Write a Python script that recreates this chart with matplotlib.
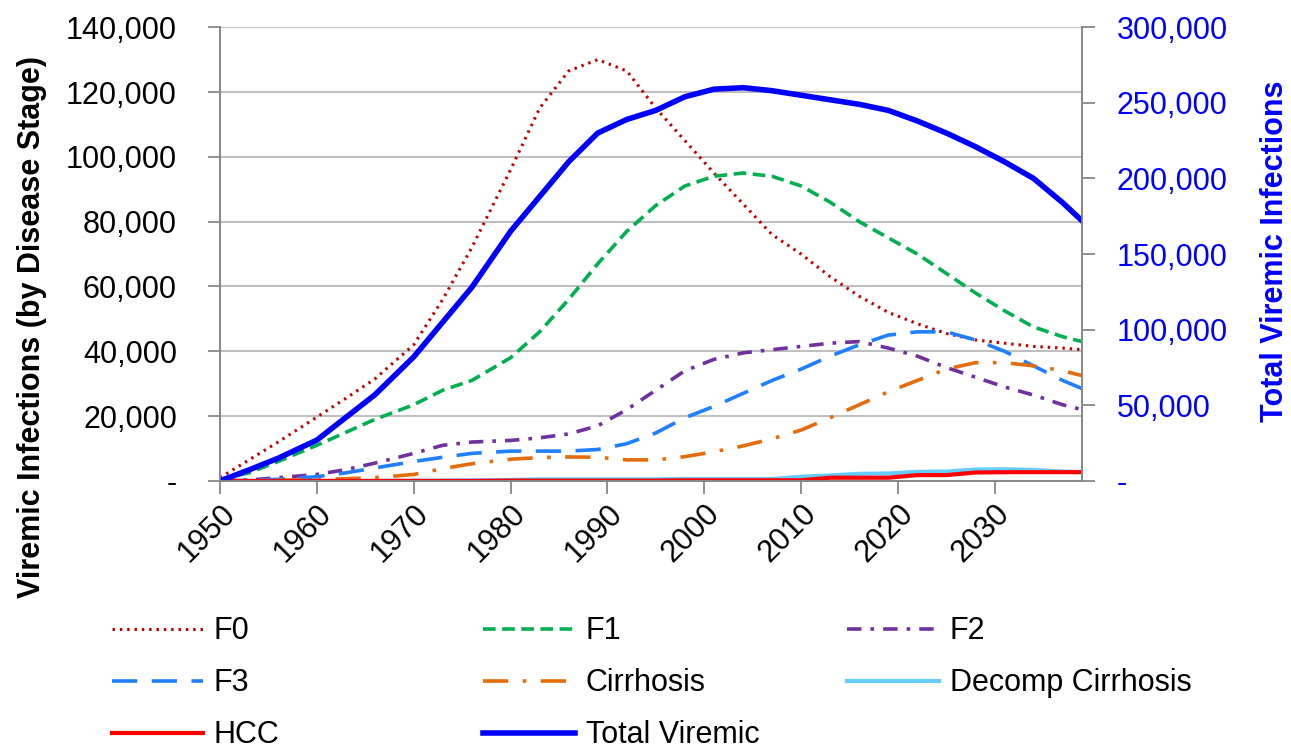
import matplotlib.pyplot as plt
from matplotlib.ticker import FuncFormatter

plt.rcParams['font.family'] = ['Liberation Sans', 'DejaVu Sans']

# Data
years = [1950, 1953, 1956, 1960, 1963, 1966, 1970, 1973, 1976, 1980,
         1983, 1986, 1989, 1992, 1995, 1998, 2001, 2004, 2007, 2010,
         2013, 2016, 2019, 2022, 2025, 2028, 2031, 2034, 2037, 2039]

f0 = [1000, 6500, 12000, 19700, 25500, 31500, 42000, 56000, 72000, 96000,
      115000, 126500, 130000, 126500, 115000, 105000, 95000, 85500, 76000, 70000,
      63000, 57000, 52000, 48500, 45500, 43500, 42500, 41500, 41000, 40500]
f1 = [500, 2500, 6000, 11000, 15000, 19000, 23500, 28000, 31000, 38000,
      46000, 56000, 67000, 77000, 85000, 91000, 94000, 95000, 94000, 91000,
      86000, 80000, 75000, 70000, 64000, 58000, 52500, 47500, 44500, 43000]
f2 = [0, 300, 1000, 2000, 3500, 5500, 8500, 11000, 12000, 12500,
      13300, 14500, 17000, 22000, 28000, 34000, 37500, 39500, 40500, 41500,
      42500, 43000, 41000, 38500, 35000, 32000, 29000, 26500, 23500, 22000]
f3 = [0, 200, 500, 1300, 2500, 4000, 6000, 7300, 8500, 9200,
      9200, 9200, 9700, 11500, 14800, 19500, 23000, 27000, 31000, 34500,
      38500, 42000, 45000, 46000, 46000, 43500, 40000, 35500, 31000, 28500]
cirrhosis = [0, 0, 200, 400, 700, 1000, 2000, 3800, 5300, 6700,
             7200, 7400, 7300, 6500, 6500, 7500, 9000, 10800, 13000, 15700,
             19500, 23500, 27500, 31000, 34500, 36500, 36500, 35500, 34000, 32500]
decomp = [0, 0, 0, 0, 0, 0, 100, 100, 200, 300,
          500, 500, 500, 500, 500, 600, 600, 600, 600, 1300,
          1700, 2200, 2300, 2800, 2900, 3500, 3600, 3400, 2900, 2800]
hcc = [0, 0, 0, 0, 0, 0, 0, 0, 0, 100,
       100, 100, 100, 100, 100, 200, 200, 200, 200, 200,
       1000, 1000, 1000, 1800, 1800, 2600, 2700, 2700, 2700, 2700]
total = [0, 7300, 15000, 27000, 42000, 57000, 82000, 105000, 128000, 165000,
         188000, 211000, 230000, 239000, 245000, 254000, 259000, 260000, 258000, 255000,
         252000, 249000, 245000, 238000, 230000, 221000, 211000, 200000, 184000, 172000]


def fmt(v, pos):
    return '-' if v == 0 else '{:,.0f}'.format(v)


fig = plt.figure(figsize=(12.91, 7.55), dpi=100)
ax = fig.add_axes([0.1704, 0.363, 0.6677, 0.601])
ax2 = ax.twinx()

l_f0, = ax.plot(years, f0, color='#C00000', lw=2.2, linestyle=(0, (0.8, 1.6)), label='F0')
l_f1, = ax.plot(years, f1, color='#00B050', lw=2.6, linestyle=(0, (3.5, 1.8)), label='F1')
l_f2, = ax.plot(years, f2, color='#7030A0', lw=2.6, linestyle=(0, (4, 2.5, 1, 2.5)), label='F2')
l_f3, = ax.plot(years, f3, color='#1E7FFF', lw=2.6, linestyle=(0, (7, 4)), label='F3')
l_ci, = ax.plot(years, cirrhosis, color='#E46C0A', lw=2.6, linestyle=(0, (7, 4, 1, 4)), label='Cirrhosis')
l_dc, = ax.plot(years, decomp, color='#66CCFF', lw=3, label='Decomp Cirrhosis')
l_hc, = ax.plot(years, hcc, color='#FF0000', lw=3, label='HCC')
l_tv, = ax2.plot(years, total, color='#0000FF', lw=4, label='Total Viremic')

ax.set_xlim(1950, 2039)
ax.set_ylim(0, 140000)
ax2.set_ylim(0, 300000)
ax.set_yticks(range(0, 140001, 20000))
ax2.set_yticks(range(0, 300001, 50000))
ax.set_xticks(range(1950, 2031, 10))
ax.yaxis.set_major_formatter(FuncFormatter(fmt))
ax2.yaxis.set_major_formatter(FuncFormatter(fmt))

ax.grid(axis='y', color='#BFBFBF', lw=1.5)
ax.set_axisbelow(True)

for a in (ax, ax2):
    for s in a.spines.values():
        s.set_color('#888888')
        s.set_linewidth(1.3)
    a.spines['top'].set_visible(False)

ax.tick_params(axis='both', labelsize=22, color='#888888', length=9, width=1.3)
ax.tick_params(axis='y', pad=22)
ax2.tick_params(axis='y', labelsize=22, colors='#0000FF', color='#888888', length=9, width=1.3, pad=16)
for lab in ax.get_xticklabels():
    lab.set_rotation(45)
    lab.set_ha('right')
    lab.set_rotation_mode('anchor')

ax.set_ylabel('Viremic Infections (by Disease Stage)', fontsize=22, fontweight='bold')
ax.yaxis.set_label_coords(-0.201, 0.34)
ax2.set_ylabel('Total Viremic Infections', fontsize=22, fontweight='bold', color='#0000FF')
ax2.yaxis.set_label_coords(1.206, 0.507)

# legend in three columns, laid out like the original
cols = [([l_f0, l_f3, l_hc], 0.077), ([l_f1, l_ci, l_tv], 0.365), ([l_f2, l_dc], 0.647)]
for handles, x in cols:
    fig.legend(handles=handles, loc='upper left', bbox_to_anchor=(x, 0.2),
               frameon=False, fontsize=22, handlelength=3.0, handletextpad=0.35,
               labelspacing=0.72, borderaxespad=0)

fig.savefig('out.png', dpi=100)
